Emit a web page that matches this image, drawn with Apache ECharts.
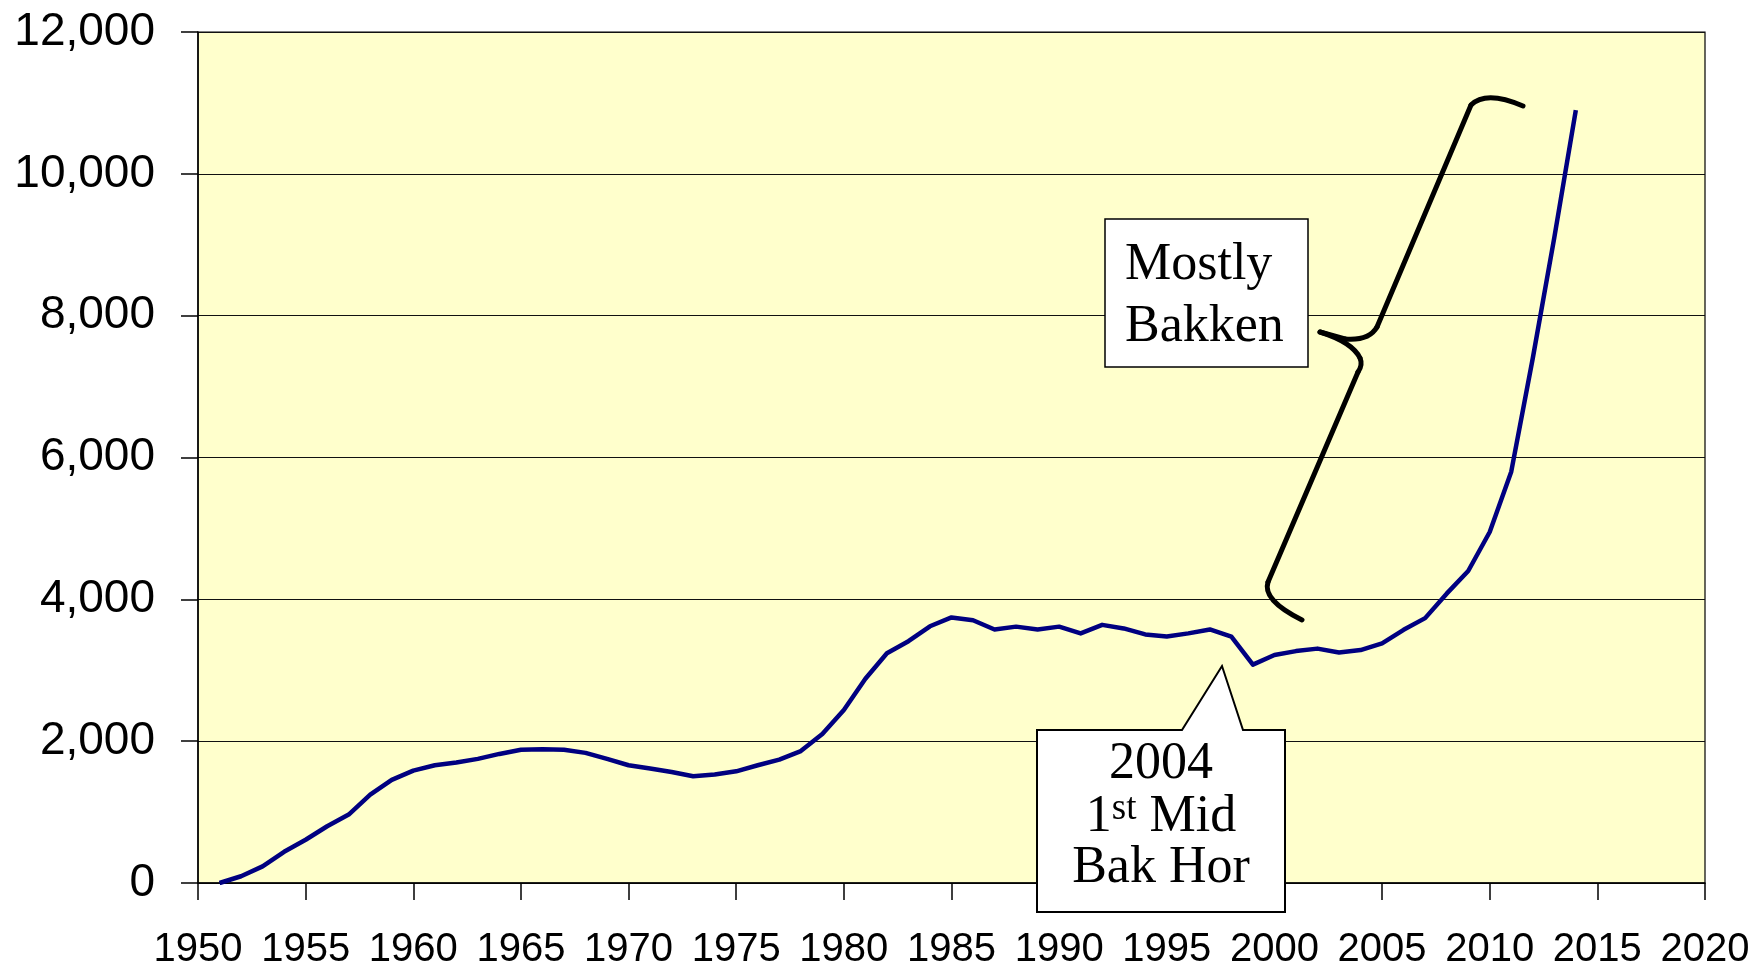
<!DOCTYPE html>
<html>
<head>
<meta charset="utf-8">
<script src="https://cdn.jsdelivr.net/npm/echarts@6/dist/echarts.min.js"></script>
<style>
html,body{margin:0;padding:0;background:#fff;}
#chart{width:1758px;height:970px;}
</style>
</head>
<body>
<div id="chart"></div>
<script>
const years = [1951,1952,1953,1954,1955,1956,1957,1958,1959,1960,
  1961,1962,1963,1964,1965,1966,1967,1968,1969,1970,
  1971,1972,1973,1974,1975,1976,1977,1978,1979,1980,
  1981,1982,1983,1984,1985,1986,1987,1988,1989,1990,
  1991,1992,1993,1994,1995,1996,1997,1998,1999,2000,
  2001,2002,2003,2004,2005,2006,2007,2008,2009,2010,
  2011,2012,2013,2014];
const values = [0,95,235,440,610,800,965,1245,1455,1585,
  1660,1700,1750,1820,1880,1885,1880,1835,1750,1660,
  1615,1565,1505,1530,1575,1660,1740,1860,2100,2440,
  2880,3240,3410,3620,3745,3705,3575,3615,3575,3615,
  3520,3640,3590,3505,3475,3520,3575,3475,3080,3215,
  3270,3305,3250,3285,3380,3570,3735,4080,4400,4950,
  5800,7400,9100,10900];
const xTicks = {min:1950, max:2020, step:5};
const yTicks = {min:0, max:12000, step:2000};
const noteBakken = ['Mostly','Bakken'];
const noteCallout = ['2004','1st Mid','Bak Hor'];

const chart = echarts.init(document.getElementById('chart'), null, {renderer:'canvas'});
const serif = '"Liberation Serif","Times New Roman",serif';
const sans = '"Liberation Sans",Arial,sans-serif';

const braceStyle = {fill:null, stroke:'#000', lineWidth:5, lineCap:'round', lineJoin:'round'};
function seg(x1,y1,x2,y2){ return {type:'line', z:50, shape:{x1,y1,x2,y2}, style:braceStyle}; }
function qcurve(x1,y1,cx,cy,x2,y2){ return {type:'bezierCurve', z:50, shape:{x1,y1,x2,y2,cpx1:cx,cpy1:cy}, style:braceStyle}; }

chart.setOption({
  animation:false,
  grid:{left:198, right:53, top:32, bottom:85, show:true, backgroundColor:'#FFFFCC', borderColor:'#000', borderWidth:1.2},
  xAxis:{
    type:'value', min:xTicks.min, max:xTicks.max, interval:xTicks.step,
    axisLine:{show:true, lineStyle:{color:'#000', width:1.5}},
    axisTick:{show:true, inside:false, length:17, lineStyle:{color:'#000', width:1.5}},
    axisLabel:{fontSize:40, fontFamily:sans, color:'#000', margin:47, formatter:v=>String(v), showMinLabel:true, showMaxLabel:true},
    splitLine:{show:false}
  },
  yAxis:{
    type:'value', min:yTicks.min, max:yTicks.max, interval:yTicks.step,
    axisLine:{show:true, lineStyle:{color:'#000', width:1.5}},
    axisTick:{show:true, inside:false, length:17, lineStyle:{color:'#000', width:1.5}},
    axisLabel:{fontSize:46, fontFamily:sans, color:'#000', margin:43, formatter:v=>v.toLocaleString('en-US')},
    splitLine:{show:true, lineStyle:{color:'#111', width:1.2}}
  },
  series:[{
    type:'line', data:years.map((y,i)=>[y,values[i]]), showSymbol:false, smooth:false,
    lineStyle:{color:'#000080', width:4.5, join:'round'}, itemStyle:{color:'#000080'}, z:5
  }],
  graphic:[
    qcurve(1523,106,1486,90,1471,105),
    seg(1471,105,1377,327),
    qcurve(1377,327,1369,341,1345,339),
    seg(1345,339,1320,332),
    qcurve(1320,332,1352,342,1360,358),
    qcurve(1360,358,1363,365,1358,372),
    seg(1358,372,1268,582),
    qcurve(1268,582,1262,600,1302,620),
    {type:'rect', z:50, shape:{x:1105, y:219, width:203, height:148}, style:{fill:'#fff', stroke:'#000', lineWidth:1.5}},
    {type:'text', z:51, x:1125, y:291, style:{text:noteBakken[0], font:'52px '+serif, fill:'#000', align:'left', verticalAlign:'bottom'}},
    {type:'text', z:51, x:1125, y:353, style:{text:noteBakken[1], font:'52px '+serif, fill:'#000', align:'left', verticalAlign:'bottom'}},
    {type:'polygon', z:50, shape:{points:[[1037,730],[1182,730],[1222,666],[1243,730],[1285,730],[1285,912],[1037,912]]},
     style:{fill:'#fff', stroke:'#000', lineWidth:2}},
    {type:'text', z:51, x:1161, y:790, style:{text:noteCallout[0], font:'52px '+serif, fill:'#000', align:'center', verticalAlign:'bottom'}},
    {type:'text', z:51, x:1161, y:843, style:{
      text:'{n|1}{s|st}{n| Mid}', align:'center', verticalAlign:'bottom', fill:'#000',
      rich:{n:{font:'52px '+serif, fill:'#000'}, s:{font:'37px '+serif, fill:'#000', verticalAlign:'top'}}}},
    {type:'text', z:51, x:1161, y:894, style:{text:noteCallout[2], font:'52px '+serif, fill:'#000', align:'center', verticalAlign:'bottom'}}
  ]
});
</script>
</body>
</html>
